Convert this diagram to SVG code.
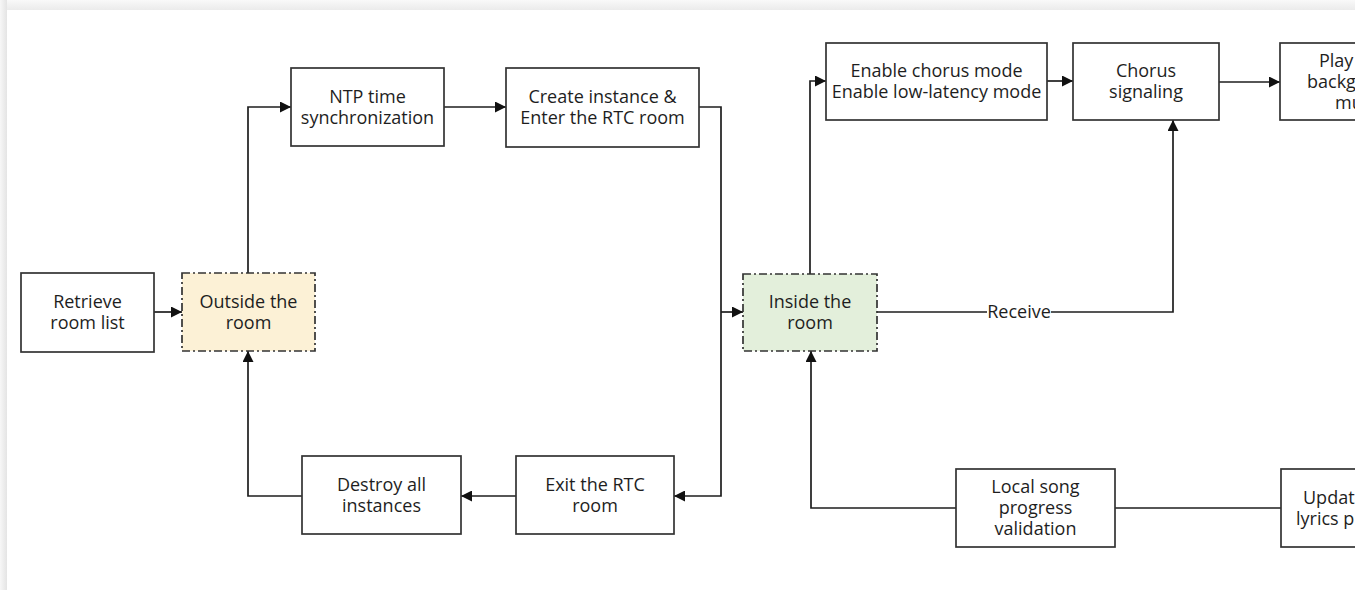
<svg xmlns="http://www.w3.org/2000/svg" width="1363" height="590" viewBox="0 0 1363 590">
  <style>
    .box { fill: #ffffff; stroke: #333333; stroke-width: 1.7; }
    .state { stroke: #333333; stroke-width: 1.7; stroke-dasharray: 8 3 2 3; }
    .outside { fill: #fcf1d6; }
    .inside { fill: #e3efdb; }
    .label { font-family: "Open Sans", "Noto Sans", "DejaVu Sans", sans-serif; font-size: 18px; fill: #1e1e1e; text-anchor: middle; }
    .lstart { text-anchor: start; }
    .wire { fill: none; stroke: #1e1e1e; stroke-width: 1.7; }
    .arrow { marker-end: url(#head); }
  </style>
  <defs>
    <marker id="head" viewBox="0 0 10 10" refX="10" refY="5" markerWidth="11" markerHeight="11" markerUnits="userSpaceOnUse" orient="auto">
      <path d="M0,0 L10,5 L0,10 Z" fill="#111111"/>
    </marker>
    <linearGradient id="shadeTop" x1="0" y1="0" x2="0" y2="1">
      <stop offset="0" stop-color="#f9f9f9"/>
      <stop offset="1" stop-color="#ebebeb"/>
    </linearGradient>
    <linearGradient id="shadeLeft" x1="0" y1="0" x2="1" y2="0">
      <stop offset="0" stop-color="#f7f7f7"/>
      <stop offset="1" stop-color="#e4e4e4"/>
    </linearGradient>
    <clipPath id="card">
      <rect x="7" y="10" width="1348" height="580"/>
    </clipPath>
  </defs>

  <!-- page background and card edge shading -->
  <rect x="0" y="0" width="1363" height="590" fill="#ffffff"/>
  <rect x="0" y="0" width="1355" height="10" fill="url(#shadeTop)"/>
  <rect x="0" y="0" width="7" height="590" fill="url(#shadeLeft)"/>

  <g clip-path="url(#card)">
    <!-- connectors -->
    <g id="connectors">
      <path class="wire arrow" d="M154,312 L182,312"/>
      <path class="wire arrow" d="M248,273 L248,107 L291,107"/>
      <path class="wire arrow" d="M444,107 L506,107"/>
      <path class="wire arrow" d="M699,107 L721,107 L721,496 L674,496"/>
      <path class="wire arrow" d="M721,312 L743,312"/>
      <path class="wire arrow" d="M516,496 L461,496"/>
      <path class="wire arrow" d="M302,496 L248,496 L248,351"/>
      <path class="wire arrow" d="M810,274 L810,81 L826,81"/>
      <path class="wire arrow" d="M1047,81 L1073,81"/>
      <path class="wire arrow" d="M1219,82 L1280,82"/>
      <path class="wire arrow" d="M877,312 L1173,312 L1173,120"/>
      <path class="wire" d="M1281,508 L1115,508"/>
      <path class="wire arrow" d="M956,508 L811,508 L811,351"/>
      <path class="wire arrow" d="M1364,430 L1364,469"/>
      <rect x="987" y="302" width="64" height="20" fill="#ffffff"/>
      <text class="label" x="1019" y="318">Receive</text>
    </g>

    <g id="retrieve-room-list">
      <rect class="box" x="21" y="273" width="133" height="79"/>
      <text class="label" x="87.5" y="307.5">Retrieve</text>
      <text class="label" x="87.5" y="328.5">room list</text>
    </g>

    <g id="outside-the-room">
      <rect class="state outside" x="182" y="273" width="133" height="78"/>
      <text class="label" x="248.5" y="307.5">Outside the</text>
      <text class="label" x="248.5" y="328.5">room</text>
    </g>

    <g id="ntp-time-sync">
      <rect class="box" x="291" y="68" width="153" height="78"/>
      <text class="label" x="367.5" y="102.5">NTP time</text>
      <text class="label" x="367.5" y="123.5">synchronization</text>
    </g>

    <g id="create-instance">
      <rect class="box" x="506" y="68" width="193" height="79"/>
      <text class="label" x="602.5" y="103">Create instance &amp;</text>
      <text class="label" x="602.5" y="124">Enter the RTC room</text>
    </g>

    <g id="inside-the-room">
      <rect class="state inside" x="743" y="274" width="134" height="77"/>
      <text class="label" x="810" y="308">Inside the</text>
      <text class="label" x="810" y="329">room</text>
    </g>

    <g id="enable-chorus">
      <rect class="box" x="826" y="43" width="221" height="77"/>
      <text class="label" x="936.5" y="77">Enable chorus mode</text>
      <text class="label" x="936.5" y="98">Enable low-latency mode</text>
    </g>

    <g id="chorus-signaling">
      <rect class="box" x="1073" y="43" width="146" height="77"/>
      <text class="label" x="1146" y="77">Chorus</text>
      <text class="label" x="1146" y="98">signaling</text>
    </g>

    <g id="play-background-music">
      <rect class="box" x="1280" y="43" width="150" height="77"/>
      <text class="label lstart" x="1319" y="66.5">Play</text>
      <text class="label lstart" x="1307" y="87.5">background</text>
      <text class="label lstart" x="1335" y="108.5">music</text>
    </g>

    <g id="destroy-all-instances">
      <rect class="box" x="302" y="456" width="159" height="78"/>
      <text class="label" x="381.5" y="490.5">Destroy all</text>
      <text class="label" x="381.5" y="511.5">instances</text>
    </g>

    <g id="exit-rtc-room">
      <rect class="box" x="516" y="456" width="158" height="78"/>
      <text class="label" x="595" y="490.5">Exit the RTC</text>
      <text class="label" x="595" y="511.5">room</text>
    </g>

    <g id="local-song-progress">
      <rect class="box" x="956" y="469" width="159" height="78"/>
      <text class="label" x="1035.5" y="493">Local song</text>
      <text class="label" x="1035.5" y="514">progress</text>
      <text class="label" x="1035.5" y="535">validation</text>
    </g>

    <g id="update-lyrics-progress">
      <rect class="box" x="1281" y="469" width="150" height="78"/>
      <text class="label lstart" x="1303" y="503.5">Update</text>
      <text class="label lstart" x="1296" y="524.5">lyrics progress</text>
    </g>
  </g>
</svg>
